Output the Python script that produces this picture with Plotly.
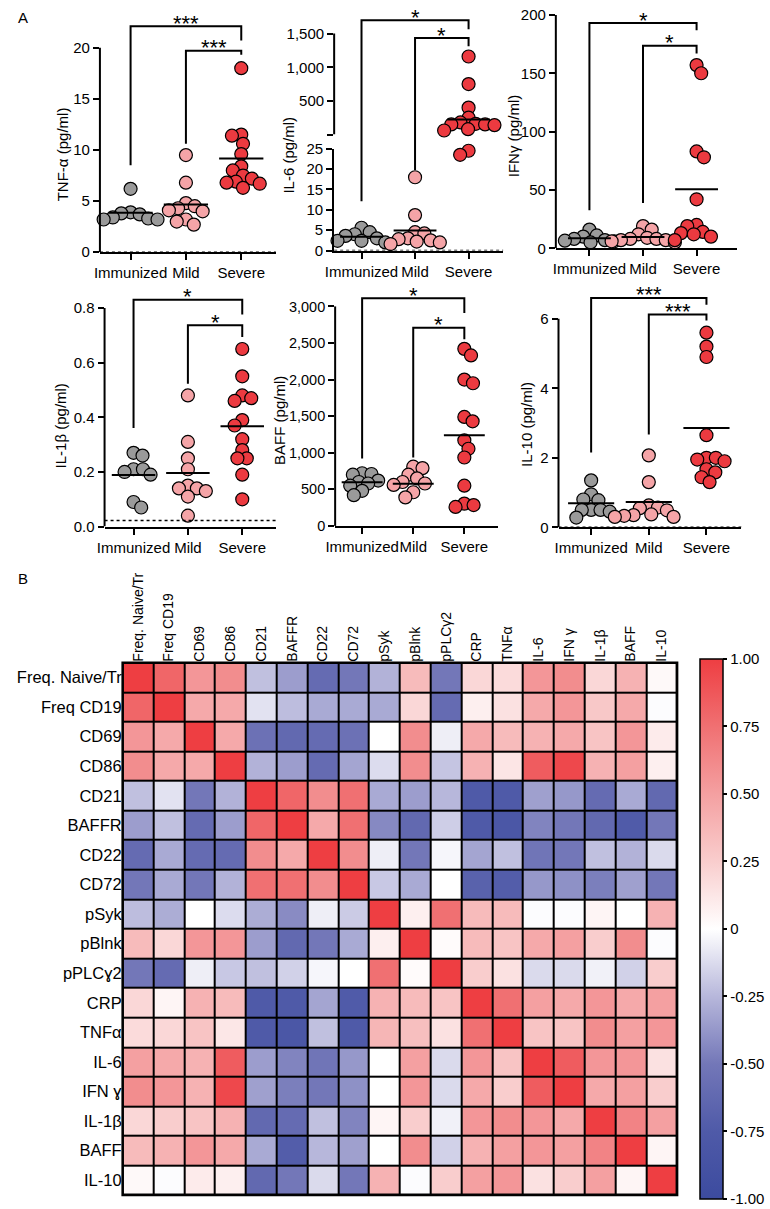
import math
import plotly.graph_objects as go

W, H = 770, 1209

categories = ["Immunized", "Mild", "Severe"]

# ---------------- Panel A data (pg/ml) ----------------
tnf_immunized = [6.2, 3.9, 3.8, 3.7, 3.4, 3.3, 3.2, 3.2]
tnf_mild = [9.5, 6.8, 4.8, 4.5, 4.3, 4.1, 4.0, 3.2, 3.0, 2.7]
tnf_severe = [18.0, 11.5, 11.4, 10.6, 9.6, 8.4, 8.0, 7.5, 7.2, 6.9, 6.8, 6.7, 6.3]
tnf_means = [3.86, 4.66, 9.16]

il6_immunized = [5.6, 4.5, 4.0, 3.6, 3.0, 2.4, 2.4, 2.0]
il6_mild = [18.0, 8.7, 4.5, 4.2, 3.0, 2.8, 2.5, 2.2, 2.0, 1.6]
il6_severe = [1160, 750, 400, 250, 180, 160, 150, 150, 140, 80, 60, 24.5, 23.5]
il6_means = [3.4, 4.95, 225]

ifng_immunized = [16, 11, 10, 8, 7, 6.5, 6, 5]
ifng_mild = [19, 16, 12, 9, 8, 8, 7, 7, 6, 5]
ifng_severe = [157, 150, 83, 78, 42, 20, 19, 14, 13, 12, 10, 7]
ifng_means = [8.7, 9.7, 50.7]

il1b_immunized = [0.27, 0.26, 0.21, 0.21, 0.20, 0.19, 0.09, 0.07]
il1b_mild = [0.48, 0.31, 0.25, 0.21, 0.15, 0.14, 0.14, 0.13, 0.11, 0.04]
il1b_severe = [0.65, 0.55, 0.48, 0.47, 0.46, 0.39, 0.37, 0.32, 0.28, 0.25, 0.25, 0.19, 0.10]
il1b_means = [0.189, 0.196, 0.367]

baff_immunized = [720, 710, 700, 620, 600, 580, 550, 480, 420]
baff_mild = [810, 790, 700, 650, 600, 580, 560, 460, 390]
baff_severe = [2420, 2330, 2000, 1950, 1490, 1430, 1170, 1055, 935, 550, 305, 285, 260]
baff_means = [597, 575, 1240]

il10_immunized = [1.35, 0.95, 0.80, 0.78, 0.50, 0.50, 0.50, 0.45, 0.28]
il10_mild = [2.07, 1.30, 0.63, 0.57, 0.55, 0.49, 0.37, 0.35, 0.33, 0.30, 0.30]
il10_severe = [5.6, 5.2, 4.9, 2.65, 2.0, 2.0, 1.95, 1.9, 1.67, 1.58, 1.44, 1.3]
il10_means = [0.69, 0.73, 2.86]

sig_tnf = ["***", "***"]
sig_il6 = ["*", "*"]
sig_ifng = ["*", "*"]
sig_il1b = ["*", "*"]
sig_baff = ["*", "*"]
sig_il10 = ["***", "***"]

# ---------------- Panel B data ----------------
heat_cols = ["Freq. Naive/Tr", "Freq CD19", "CD69", "CD86", "CD21", "BAFFR", "CD22", "CD72",
             "pSyk", "pBlnk", "pPLCγ2", "CRP", "TNFα", "IL-6", "IFN γ", "IL-1β", "BAFF", "IL-10"]
heat_rows = ["Freq. Naive/Tr", "Freq CD19", "CD69", "CD86", "CD21", "BAFFR", "CD22", "CD72",
             "pSyk", "pBlnk", "pPLCɣ2", "CRP", "TNFα", "IL-6", "IFN ɣ", "IL-1β", "BAFF", "IL-10"]
corr_values = [
    [1.0, 0.8, 0.55, 0.6, -0.22, -0.35, -0.6, -0.5, -0.27, 0.35, -0.5, 0.2, 0.18, 0.55, 0.6, 0.2, 0.4, 0.03],
    [0.8, 1.0, 0.45, 0.45, -0.1, -0.23, -0.3, -0.3, -0.3, 0.2, -0.6, 0.08, 0.15, 0.45, 0.55, 0.28, 0.45, -0.01],
    [0.55, 0.45, 1.0, 0.45, -0.55, -0.62, -0.6, -0.55, 0.0, 0.6, -0.06, 0.45, 0.35, 0.4, 0.45, 0.3, 0.55, 0.1],
    [0.6, 0.45, 0.45, 1.0, -0.27, -0.35, -0.6, -0.32, -0.12, 0.6, -0.2, 0.4, 0.13, 0.85, 0.95, 0.4, 0.5, 0.08],
    [-0.22, -0.1, -0.5, -0.27, 1.0, 0.8, 0.6, 0.75, -0.3, -0.35, -0.25, -0.75, -0.75, -0.34, -0.37, -0.6, -0.3, -0.62],
    [-0.35, -0.22, -0.6, -0.35, 0.8, 1.0, 0.45, 0.75, -0.43, -0.62, -0.17, -0.75, -0.8, -0.45, -0.5, -0.62, -0.74, -0.5],
    [-0.6, -0.3, -0.6, -0.6, 0.6, 0.45, 1.0, 0.6, -0.06, -0.5, -0.03, -0.32, -0.22, -0.52, -0.5, -0.22, -0.27, -0.13],
    [-0.5, -0.3, -0.5, -0.27, 0.75, 0.75, 0.6, 1.0, -0.19, -0.3, 0.0, -0.68, -0.72, -0.37, -0.4, -0.47, -0.34, -0.5],
    [-0.23, -0.29, 0.0, -0.12, -0.29, -0.42, -0.06, -0.18, 1.0, 0.08, 0.75, 0.35, 0.35, -0.01, -0.01, 0.05, 0.0, 0.4],
    [0.35, 0.2, 0.55, 0.55, -0.35, -0.62, -0.5, -0.3, 0.08, 1.0, 0.02, 0.35, 0.3, 0.45, 0.5, 0.25, 0.6, -0.01],
    [-0.5, -0.6, -0.06, -0.19, -0.22, -0.16, -0.03, 0.0, 0.75, 0.02, 1.0, 0.25, 0.15, -0.13, -0.13, -0.05, -0.16, 0.25],
    [0.2, 0.05, 0.4, 0.35, -0.75, -0.75, -0.32, -0.74, 0.4, 0.35, 0.3, 1.0, 0.75, 0.5, 0.45, 0.55, 0.45, 0.5],
    [0.18, 0.2, 0.3, 0.12, -0.75, -0.8, -0.22, -0.75, 0.38, 0.33, 0.15, 0.75, 1.0, 0.3, 0.3, 0.6, 0.5, 0.55],
    [0.5, 0.45, 0.4, 0.85, -0.35, -0.45, -0.52, -0.37, 0.0, 0.5, -0.13, 0.55, 0.3, 1.0, 0.85, 0.55, 0.55, 0.15],
    [0.6, 0.55, 0.4, 0.95, -0.34, -0.47, -0.5, -0.4, 0.0, 0.55, -0.13, 0.45, 0.25, 0.85, 1.0, 0.45, 0.5, 0.25],
    [0.2, 0.25, 0.3, 0.4, -0.62, -0.6, -0.22, -0.45, 0.05, 0.25, -0.05, 0.55, 0.6, 0.55, 0.45, 1.0, 0.65, 0.5],
    [0.35, 0.4, 0.55, 0.45, -0.3, -0.72, -0.25, -0.34, 0.0, 0.6, -0.16, 0.4, 0.5, 0.55, 0.5, 0.65, 1.0, 0.05],
    [0.03, -0.01, 0.1, 0.08, -0.62, -0.5, -0.13, -0.5, 0.4, -0.01, 0.25, 0.5, 0.55, 0.15, 0.25, 0.5, 0.05, 1.0],
]
cbar_vals = [1, 0.75, 0.5, 0.25, 0, -0.25, -0.5, -0.75, -1]
cbar_text = ["1.00", "0.75", "0.50", "0.25", "0", "-0.25", "-0.50", "-0.75", "-1.00"]

# ---------------- styling ----------------
FONT = "Arial, Liberation Sans, Helvetica, sans-serif"
group_colors = ["#9A9A9A", "#F5A4A7", "#EC3A40"]
MARKER = 13
SWARM_D = 9.5
heat_scale = [[0.0, "#3C4B9F"], [0.125, "#4F5AA8"], [0.25, "#7377B8"], [0.375, "#B7B7DB"],
              [0.5, "#FFFFFF"], [0.625, "#F9CDCD"], [0.75, "#F4A0A1"], [0.875, "#F07072"],
              [1.0, "#EE3E42"]]


def swarm(ys_px, px_per_cat, diam=SWARM_D):
    order = sorted(range(len(ys_px)), key=lambda i: ys_px[i])
    placed, offs = [], [0.0] * len(ys_px)
    for k, i in enumerate(order):
        y = ys_px[i]
        forb = []
        for xp, yp in placed:
            dy = abs(y - yp)
            if dy < diam:
                dx = math.sqrt(diam * diam - dy * dy)
                forb.append((xp - dx, xp + dx))
        cands = [0.0]
        for lo, hi in forb:
            cands += [lo, hi]
        sgn = 1 if k % 2 else -1
        cands.sort(key=lambda c: (round(abs(c), 6), -sgn * c))
        x = 0.0
        for c in cands:
            if all(not (lo + 1e-6 < c < hi - 1e-6) for lo, hi in forb):
                x = c
                break
        placed.append((x, y))
        offs[i] = x / px_per_cat
    return offs


def names(n):
    return ("x" if n == 1 else f"x{n}"), ("y" if n == 1 else f"y{n}")


def sy(p, v):
    return p["ypx"][1] - (v - p["yr"][0]) * (p["ypx"][1] - p["ypx"][0]) / (p["yr"][1] - p["yr"][0])


def sx(p, c):
    return p["xpx"][0] + (c - p["xr"][0]) * (p["xpx"][1] - p["xpx"][0]) / (p["xr"][1] - p["xr"][0])


def ppc(p):
    return (p["xpx"][1] - p["xpx"][0]) / (p["xr"][1] - p["xr"][0])


fig = go.Figure()
layout_axes, shapes, annotations = {}, [], []


def add_axes(p, show_x=True, yline=False):
    n = p["n"]
    xkey = "xaxis" if n == 1 else f"xaxis{n}"
    ykey = "yaxis" if n == 1 else f"yaxis{n}"
    xa, ya = names(n)
    layout_axes[xkey] = dict(
        domain=[p["xpx"][0] / W, p["xpx"][1] / W], range=list(p["xr"]), anchor=ya, type="linear",
        tickmode="array", tickvals=[0, 1, 2], ticktext=categories, visible=show_x, tickangle=0,
        showline=True, linecolor="black", linewidth=2, ticks="outside", ticklen=6, tickwidth=2,
        tickcolor="black", showgrid=False, zeroline=False,
        tickfont=dict(size=15, color="black", family=FONT), fixedrange=True)
    yd = dict(
        domain=[1 - p["ypx"][1] / H, 1 - p["ypx"][0] / H], range=list(p["yr"]), anchor=xa,
        tickmode="array", tickvals=p["yticks"], showline=yline, linecolor="black", linewidth=2,
        ticks="outside", ticklen=6, tickwidth=2, tickcolor="black", showgrid=False, zeroline=False,
        tickfont=dict(size=p.get("yfont", 15), color="black", family=FONT), fixedrange=True)
    if p.get("yticktext"):
        yd["ticktext"] = p["yticktext"]
    if p.get("fmt"):
        yd["tickformat"] = p["fmt"]
    layout_axes[ykey] = yd
    if not yline:
        shapes.append(dict(type="line", xref="paper", yref=ya, x0=p["xpx"][0] / W, x1=p["xpx"][0] / W,
                           y0=p["yr"][0], y1=p["top"], line=dict(color="black", width=2)))


def add_points(p_of, groups, means, mean_panel_of):
    for g, vals in enumerate(groups):
        ys = [sy(p_of(v), v) for v in vals]
        base = p_of(vals[0])
        offs = swarm(ys, ppc(base))
        buckets = {}
        for v, o in zip(vals, offs):
            pp = p_of(v)
            buckets.setdefault(pp["n"], []).append((g + o, v))
        for n, pts in buckets.items():
            xa, ya = names(n)
            fig.add_trace(go.Scatter(
                x=[a for a, _ in pts], y=[b for _, b in pts], mode="markers", xaxis=xa, yaxis=ya,
                cliponaxis=False, hoverinfo="skip", showlegend=False,
                marker=dict(size=MARKER, color=group_colors[g], line=dict(color="black", width=1.2))))
    for g, m in enumerate(means):
        xa, ya = names(mean_panel_of(m)["n"])
        fig.add_trace(go.Scatter(x=[g - 0.4, g + 0.4], y=[m, m], mode="lines", xaxis=xa, yaxis=ya,
                                 cliponaxis=False, hoverinfo="skip", showlegend=False,
                                 line=dict(color="black", width=2)))


def add_title(text, pos):
    annotations.append(dict(text=text, x=pos[0] / W, y=1 - pos[1] / H, xref="paper", yref="paper",
                            textangle=-90, showarrow=False, xanchor="center", yanchor="middle",
                            font=dict(size=15, color="black", family=FONT)))


def star(text, xpx, ypx):
    annotations.append(dict(text=text, x=xpx / W, y=1 - ypx / H, xref="paper", yref="paper",
                            showarrow=False, xanchor="center", yanchor="middle",
                            font=dict(size=22, color="black", family=FONT)))


def bracket_paper(pts):
    d = "M " + " L ".join(f"{x / W},{1 - y / H}" for x, y in pts)
    shapes.append(dict(type="path", path=d, xref="paper", yref="paper",
                       line=dict(color="black", width=2)))


panels = [
    dict(n=1, xpx=(92, 270), xr=(-0.554, 2.625), ypx=(4, 246.7), yr=(0, 23.4), yticks=[0, 5, 10, 15, 20],
         top=20, title="TNF-α (pg/ml)", tpos=(55, 147), lod=0,
         groups=[tnf_immunized, tnf_mild, tnf_severe], means=tnf_means, sig=sig_tnf,
         br=((8.5, 22.1, 20.7), (10.6, 19.7, 19.3))),
    dict(n=3, xpx=(553.3, 736.7), xr=(-0.627, 2.756), ypx=(2, 242.7), yr=(0, 203.4),
         yticks=[0, 50, 100, 150, 200], top=200, title="IFNγ (pg/ml)", tpos=(510, 129), lod=None,
         groups=[ifng_immunized, ifng_mild, ifng_severe], means=ifng_means, sig=sig_ifng,
         br=((32.7, 193, 186.8), (38.9, 173.5, 167))),
    dict(n=4, xpx=(96.7, 270), xr=(-0.533, 2.618), ypx=(280, 525), yr=(0, 0.884),
         yticks=[0, 0.2, 0.4, 0.6, 0.8], fmt=".1f", top=0.8, title="IL-1β (pg/ml)", tpos=(52, 423),
         lod=0.022, groups=[il1b_immunized, il1b_mild, il1b_severe], means=il1b_means, sig=sig_il1b,
         br=((0.361, 0.83, 0.776), (0.523, 0.737, 0.694))),
    dict(n=5, xpx=(330, 495), xr=(-0.528, 2.663), ypx=(280, 524.3), yr=(0, 3292),
         yticks=[0, 500, 1000, 1500, 2000, 2500, 3000], fmt=",", top=3000, title="BAFF (pg/ml)",
         tpos=(273, 417), yfont=14.5, lod=None, groups=[baff_immunized, baff_mild, baff_severe],
         means=baff_means, sig=sig_baff, br=((920, 3112, 2910), (934, 2708, 2551))),
    dict(n=6, xpx=(556, 741), xr=(-0.566, 2.605), ypx=(280, 525.7), yr=(0, 6.97), yticks=[0, 2, 4, 6],
         top=6, title="IL-10 (pg/ml)", tpos=(523, 421), lod=0,
         groups=[il10_immunized, il10_mild, il10_severe], means=il10_means, sig=sig_il10,
         br=((2.15, 6.6, 6.4), (2.67, 6.12, 5.95))),
]

for p in panels:
    add_axes(p)
    add_points(lambda v, p=p: p, p["groups"], p["means"], lambda m, p=p: p)
    add_title(p["title"], p["tpos"])
    xa, ya = names(p["n"])
    if p["lod"] is not None:
        shapes.append(dict(type="line", xref="paper", yref=ya, x0=p["xpx"][0] / W, x1=p["xpx"][1] / W,
                           y0=p["lod"], y1=p["lod"], line=dict(color="black", width=1.5, dash="dot")))
    for (lb, tp, rb), c0, txt in zip(p["br"], [0, 1], p["sig"]):
        bracket_paper([(sx(p, c0), sy(p, lb)), (sx(p, c0), sy(p, tp)), (sx(p, 2), sy(p, tp)),
                       (sx(p, 2), sy(p, rb))])
        star(txt, (sx(p, c0) + sx(p, 2)) / 2, sy(p, tp) - 3)

# ---- IL-6 with broken axis ----
il6_low = dict(n=2, xpx=(329, 500), xr=(-0.511, 2.646), ypx=(141.7, 245), yr=(0, 25),
               yticks=[0, 5, 10, 15, 20, 25], top=25)
il6_up = dict(n=7, xpx=(329, 500), xr=(-0.511, 2.646), ypx=(0, 127.33), yr=(0, 1866),
              yticks=[0, 500, 1000, 1500], yticktext=["", "500", "1,000", "1,500"], fmt=",", top=1500)
add_axes(il6_low, yline=True)
add_axes(il6_up, show_x=False)


def il6_seg(v):
    return il6_up if v > 25 else il6_low


add_points(il6_seg, [il6_immunized, il6_mild, il6_severe], il6_means, il6_seg)
add_title("IL-6 (pg/ml)", (283, 148))
shapes.append(dict(type="line", xref="paper", yref="y2", x0=329 / W, x1=500 / W, y0=0, y1=0,
                   line=dict(color="black", width=1.5, dash="dot")))
il6_br = ((12.1, 1700, 1565), (19.8, 1434, 1314))
for (lb, tp, rb), c0, txt in zip(il6_br, [0, 1], sig_il6):
    bracket_paper([(sx(il6_low, c0), sy(il6_low, lb)), (sx(il6_low, c0), sy(il6_up, tp)),
                   (sx(il6_low, 2), sy(il6_up, tp)), (sx(il6_low, 2), sy(il6_up, rb))])
    star(txt, (sx(il6_low, c0) + sx(il6_low, 2)) / 2, sy(il6_up, tp) - 3)

# ---- Heatmap ----
hx0, hx1, hy0, hy1 = 115, 676, 663, 1203
shapes.append(dict(type="rect", xref="paper", yref="paper", x0=hx0 / W, x1=hx1 / W,
                   y0=1 - hy1 / H, y1=1 - hy0 / H, fillcolor="black", line=dict(width=0), layer="below"))
shapes.append(dict(type="rect", xref="paper", yref="paper", x0=hx0 / W, x1=hx1 / W,
                   y0=1 - hy1 / H, y1=1 - hy0 / H, line=dict(color="black", width=2.5)))
fig.add_trace(go.Heatmap(
    z=corr_values, x=heat_cols, y=heat_rows, colorscale=heat_scale, zmin=-1, zmax=1,
    xgap=2, ygap=2, xaxis="x8", yaxis="y8", hoverinfo="skip",
    colorbar=dict(x=699 / W, xanchor="left", xpad=0, ypad=0, y=1 - 933 / H, yanchor="middle",
                  len=540, lenmode="pixels", thickness=23, thicknessmode="pixels",
                  outlinewidth=1.5, outlinecolor="black", tickmode="array", tickvals=cbar_vals,
                  ticktext=cbar_text, ticks="outside", ticklen=4, tickwidth=2, tickcolor="black",
                  tickfont=dict(size=15, color="black", family=FONT))))
layout_axes["xaxis8"] = dict(domain=[hx0 / W, hx1 / W], anchor="y8", side="top", tickangle=-90,
                             showgrid=False, zeroline=False, showline=False, ticks="",
                             tickfont=dict(size=14, color="black", family=FONT), fixedrange=True)
layout_axes["yaxis8"] = dict(domain=[1 - hy1 / H, 1 - hy0 / H], anchor="x8", autorange="reversed",
                             showgrid=False, zeroline=False, showline=False, ticks="",
                             tickfont=dict(size=16.5, color="black", family=FONT), fixedrange=True)

annotations.append(dict(text="A", x=7 / W, y=1 - 9 / H, xref="paper", yref="paper", showarrow=False,
                        xanchor="left", yanchor="middle", font=dict(size=15, color="black", family=FONT)))
annotations.append(dict(text="B", x=7 / W, y=1 - 578 / H, xref="paper", yref="paper", showarrow=False,
                        xanchor="left", yanchor="middle", font=dict(size=15, color="black", family=FONT)))

fig.update_layout(width=W, height=H, margin=dict(l=0, r=0, t=0, b=0), paper_bgcolor="white",
                  plot_bgcolor="white", showlegend=False, font=dict(family=FONT, color="black"),
                  shapes=shapes, annotations=annotations, **layout_axes)
fig.write_html("out.html", config={"displayModeBar": False, "staticPlot": True},
               post_script="document.body.style.margin='0';document.body.style.padding='0';"
                           "document.body.style.overflow='hidden';")
